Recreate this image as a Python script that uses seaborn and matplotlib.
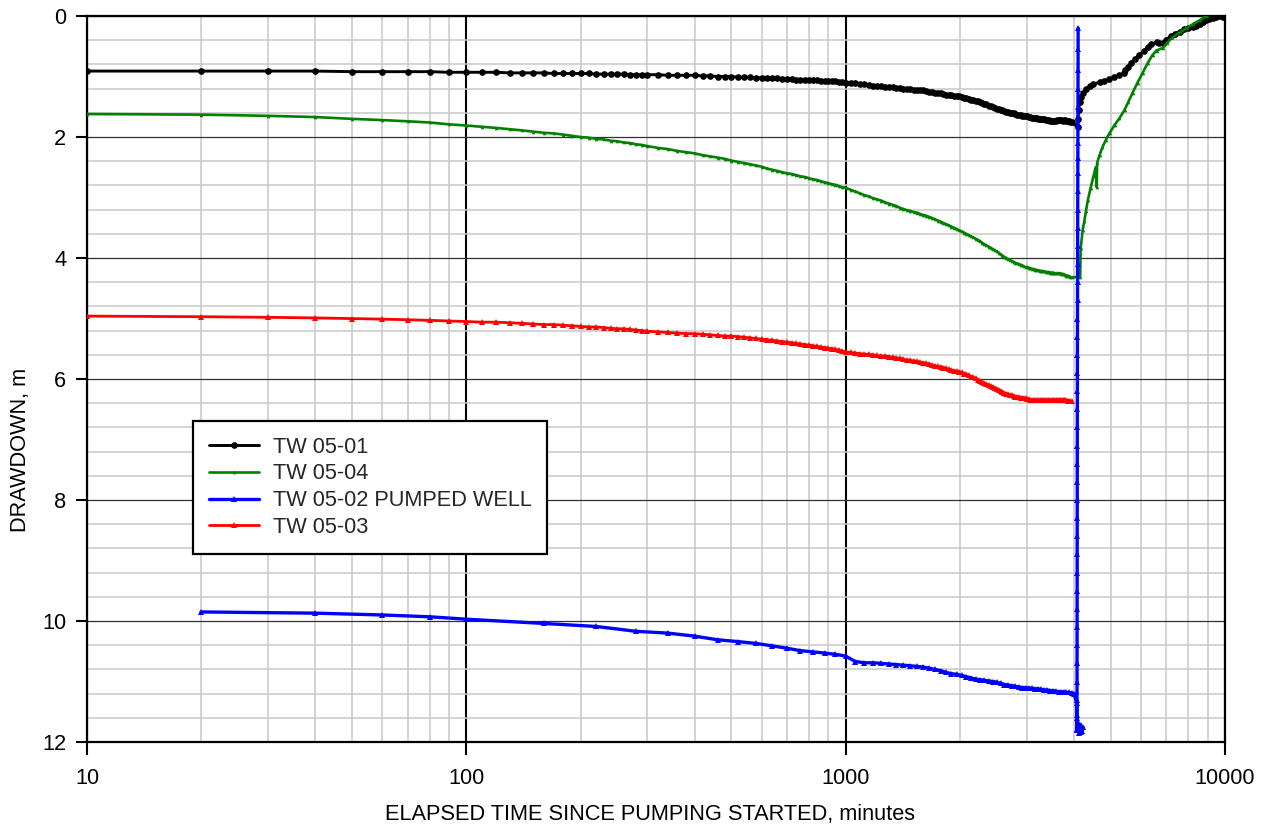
import numpy as np
import matplotlib
matplotlib.use("Agg")
import matplotlib.pyplot as plt
from matplotlib.ticker import LogLocator, MultipleLocator, NullFormatter
import seaborn as sns

# ---------------------------------------------------------------------------
# Pumping-phase logger schedule (minutes since pumping started)
t_early = np.arange(10, 301, 10)      # 30 readings
t_mid = np.arange(320, 1001, 20)      # 35 readings
t_late = np.arange(1030, 3941, 30)    # 98 readings
t_pump = np.concatenate([t_early, t_mid, t_late])

# TW 05-01 drawdown (m) during pumping
tw01_pump = [
    0.91, 0.91, 0.91, 0.91, 0.92, 0.92, 0.92, 0.92, 0.93, 0.93,
    0.93, 0.93, 0.94, 0.94, 0.94, 0.94, 0.95, 0.95, 0.95, 0.95,
    0.95, 0.96, 0.96, 0.96, 0.96, 0.96, 0.97, 0.97, 0.97, 0.97,
    # 320 - 1000
    0.97, 0.98, 0.98, 0.98, 0.98, 0.99, 0.99, 1.00, 1.00, 1.00,
    1.01, 1.01, 1.01, 1.02, 1.02, 1.02, 1.03, 1.03, 1.04, 1.04,
    1.04, 1.05, 1.05, 1.05, 1.06, 1.06, 1.06, 1.07, 1.07, 1.07,
    1.08, 1.08, 1.09, 1.09, 1.10,
    # 1030 - 3940
    1.10, 1.11, 1.12, 1.13, 1.14, 1.15, 1.15, 1.16, 1.17, 1.17,
    1.18, 1.19, 1.19, 1.20, 1.21, 1.21, 1.22, 1.22, 1.23, 1.23,
    1.24, 1.25, 1.26, 1.27, 1.28, 1.28, 1.29, 1.30, 1.31, 1.31,
    1.32, 1.33, 1.33, 1.34, 1.35, 1.36, 1.37, 1.38, 1.39, 1.40,
    1.41, 1.42, 1.43, 1.45, 1.46, 1.48, 1.49, 1.50, 1.52, 1.53,
    1.54, 1.55, 1.56, 1.57, 1.58, 1.59, 1.60, 1.60, 1.61, 1.62,
    1.63, 1.63, 1.64, 1.65, 1.65, 1.66, 1.66, 1.67, 1.67, 1.68,
    1.68, 1.69, 1.69, 1.70, 1.70, 1.71, 1.71, 1.71, 1.72, 1.72,
    1.72, 1.73, 1.73, 1.73, 1.73, 1.73, 1.72, 1.72, 1.72, 1.72,
    1.73, 1.72, 1.72, 1.73, 1.74, 1.74, 1.75, 1.76,
]

# TW 05-04 drawdown (m) during pumping
tw04_pump = [
    1.62, 1.63, 1.65, 1.67, 1.70, 1.72, 1.74, 1.76, 1.79, 1.81,
    1.83, 1.85, 1.87, 1.89, 1.91, 1.93, 1.94, 1.96, 1.98, 2.00,
    2.01, 2.03, 2.04, 2.06, 2.07, 2.09, 2.10, 2.12, 2.13, 2.15,
    # 320 - 1000
    2.18, 2.20, 2.23, 2.25, 2.27, 2.30, 2.32, 2.34, 2.36, 2.39,
    2.41, 2.43, 2.45, 2.47, 2.49, 2.52, 2.54, 2.56, 2.58, 2.60,
    2.61, 2.63, 2.65, 2.66, 2.68, 2.70, 2.71, 2.73, 2.75, 2.76,
    2.78, 2.79, 2.81, 2.83, 2.84,
    # 1030 - 3940
    2.87, 2.90, 2.93, 2.96, 2.98, 3.01, 3.03, 3.05, 3.08, 3.10,
    3.12, 3.14, 3.17, 3.19, 3.21, 3.22, 3.24, 3.25, 3.27, 3.29,
    3.30, 3.32, 3.34, 3.36, 3.38, 3.40, 3.42, 3.44, 3.46, 3.48,
    3.50, 3.52, 3.54, 3.56, 3.58, 3.60, 3.62, 3.64, 3.66, 3.68,
    3.70, 3.72, 3.75, 3.77, 3.79, 3.81, 3.83, 3.85, 3.87, 3.89,
    3.91, 3.94, 3.96, 3.98, 4.00, 4.02, 4.03, 4.05, 4.06, 4.08,
    4.09, 4.10, 4.11, 4.12, 4.14, 4.15, 4.15, 4.16, 4.17, 4.18,
    4.18, 4.19, 4.20, 4.20, 4.21, 4.21, 4.22, 4.22, 4.23, 4.23,
    4.23, 4.24, 4.24, 4.24, 4.25, 4.25, 4.25, 4.25, 4.25, 4.26,
    4.26, 4.27, 4.28, 4.29, 4.29, 4.30, 4.31, 4.32,
]

# TW 05-03 drawdown (m) during pumping
tw03_pump = [
    4.96, 4.97, 4.98, 4.99, 5.00, 5.01, 5.02, 5.03, 5.04, 5.05,
    5.06, 5.06, 5.07, 5.08, 5.09, 5.10, 5.10, 5.11, 5.12, 5.13,
    5.14, 5.14, 5.15, 5.16, 5.17, 5.17, 5.18, 5.19, 5.20, 5.21,
    # 320 - 1000
    5.22, 5.23, 5.24, 5.25, 5.25, 5.26, 5.27, 5.28, 5.29, 5.29,
    5.30, 5.31, 5.32, 5.33, 5.34, 5.35, 5.36, 5.37, 5.38, 5.39,
    5.40, 5.41, 5.42, 5.43, 5.44, 5.45, 5.46, 5.47, 5.48, 5.49,
    5.50, 5.51, 5.52, 5.54, 5.55,
    # 1030 - 3940
    5.56, 5.57, 5.58, 5.59, 5.59, 5.60, 5.61, 5.62, 5.62, 5.63,
    5.64, 5.65, 5.66, 5.67, 5.69, 5.69, 5.70, 5.71, 5.72, 5.73,
    5.74, 5.75, 5.77, 5.78, 5.79, 5.80, 5.81, 5.82, 5.84, 5.85,
    5.86, 5.87, 5.88, 5.89, 5.91, 5.92, 5.94, 5.96, 5.97, 5.99,
    6.01, 6.03, 6.05, 6.07, 6.08, 6.10, 6.12, 6.13, 6.15, 6.17,
    6.18, 6.20, 6.21, 6.23, 6.24, 6.25, 6.26, 6.27, 6.28, 6.29,
    6.30, 6.30, 6.31, 6.31, 6.32, 6.32, 6.33, 6.33, 6.34, 6.34,
    6.34, 6.35, 6.34, 6.35, 6.35, 6.34, 6.35, 6.35, 6.35, 6.35,
    6.34, 6.35, 6.35, 6.34, 6.34, 6.35, 6.35, 6.34, 6.34, 6.35,
    6.34, 6.34, 6.35, 6.35, 6.36, 6.36, 6.37, 6.37,
]

# TW 05-02 (pumped well) schedule and drawdown during pumping
t_pw = np.concatenate([np.arange(20, 101, 20),
                       np.arange(160, 1001, 60),
                       np.arange(1060, 4001, 60)])
tw02_pump = [
    9.85, 9.87, 9.90, 9.93, 9.97,
    10.04, 10.09, 10.17, 10.20, 10.25, 10.31, 10.34, 10.37, 10.41, 10.45,
    10.49, 10.51, 10.53, 10.55, 10.58,
    # 1060 - 4000
    10.67, 10.69, 10.69, 10.70, 10.71, 10.72, 10.73, 10.74, 10.75, 10.76,
    10.78, 10.80, 10.82, 10.85, 10.87, 10.88, 10.90, 10.92, 10.94, 10.96,
    10.97, 10.98, 10.99, 11.00, 11.01, 11.03, 11.05, 11.06, 11.07, 11.08,
    11.09, 11.10, 11.10, 11.11, 11.11, 11.12, 11.12, 11.13, 11.14, 11.14,
    11.15, 11.15, 11.16, 11.17, 11.17, 11.17, 11.18, 11.18, 11.19, 11.20,
]

# Readings after the pump was switched off (time, drawdown)
tw01_rec_t = [4085, 4095, 4110, 4140, 4180, 4230, 4300, 4400, 4500, 4670,
              4800, 4950, 5100, 5270, 5400, 5450, 5550, 5650, 5800, 5950,
              6100, 6250, 6400, 6600, 6700, 6845, 7000, 7200, 7400, 7590,
              7800, 8000, 8210, 8400, 8570, 8750, 8900, 9100, 9270, 9450,
              9675, 9800, 9900]
tw01_rec = [1.83, 1.70, 1.55, 1.42, 1.34, 1.27, 1.21, 1.16, 1.13, 1.09,
            1.07, 1.04, 1.01, 0.98, 0.95, 0.89, 0.84, 0.78, 0.71, 0.64,
            0.58, 0.52, 0.47, 0.43, 0.44, 0.44, 0.39, 0.33, 0.29, 0.26,
            0.22, 0.20, 0.18, 0.16, 0.14, 0.10, 0.07, 0.05, 0.03, 0.02,
            0.00, 0.00, 0.01]

tw04_rec_t = [4150, 4165, 4213, 4260, 4300, 4350, 4420, 4500, 4560, 4590,
              4600, 4670, 4750, 4850, 4966, 5118, 5270, 5437, 5560, 5705,
              5880, 6065, 6250, 6445, 6600, 6845, 7050, 7270, 7600, 7920,
              8250, 8570, 8940]
tw04_rec = [4.31, 3.84, 3.54, 3.38, 3.22, 3.04, 2.85, 2.65, 2.50, 2.83,
            2.43, 2.30, 2.17, 2.05, 1.93, 1.80, 1.69, 1.55, 1.42, 1.27,
            1.10, 0.94, 0.78, 0.64, 0.57, 0.53, 0.44, 0.35, 0.27, 0.20,
            0.13, 0.07, 0.00]

tw02_rec_t = [4060, 4065, 4075, 4100, 4130, 4160, 4200, 4230, 4180, 4120,
              4080, 4072, 4072, 4073, 4073, 4074, 4074, 4075, 4075, 4076,
              4076, 4077, 4077, 4078, 4078, 4079, 4079, 4080, 4080, 4081,
              4081, 4082, 4083, 4084, 4085, 4086, 4087, 4088, 4089, 4090,
              4091, 4092, 4093, 4094, 4095, 4096, 4097, 4098, 4099, 4100]
tw02_rec = [11.35, 11.60, 11.80, 11.75, 11.85, 11.72, 11.82, 11.76, 11.84, 11.70,
            11.78, 11.55, 11.30, 11.00, 10.70, 10.40, 10.10, 9.80, 9.50, 9.20,
            8.90, 8.60, 8.30, 8.00, 7.70, 7.40, 7.10, 6.80, 6.50, 6.20,
            5.90, 5.60, 5.30, 5.00, 4.70, 4.40, 4.10, 3.80, 3.50, 3.20,
            2.90, 2.60, 2.35, 2.10, 1.80, 1.50, 1.20, 0.90, 0.55, 0.20]

well_names = ["TW 05-01", "TW 05-04", "TW 05-02 PUMPED WELL", "TW 05-03"]
well_colors = ["#000000", "#008000", "#0000ff", "#ff0000"]

# ---------------------------------------------------------------------------
sns.set_theme(style="white")
plt.rcParams["font.family"] = ["Liberation Sans", "DejaVu Sans"]
FS = 15.7

fig = plt.figure(figsize=(12.68, 8.30), dpi=100)
ax = fig.add_axes([0.0686, 0.1060, 0.8975, 0.8747])

series = [
    (np.concatenate([t_pump, tw01_rec_t]), tw01_pump + tw01_rec, "o", 4.8, 2.1),
    (np.concatenate([t_pump, tw04_rec_t]), tw04_pump + tw04_rec, "^", 2.6, 1.9),
    (np.concatenate([t_pw, tw02_rec_t]), tw02_pump + tw02_rec, "^", 4.2, 2.4),
    (t_pump, tw03_pump, "^", 4.6, 2.0),
]

for (tx, dd, mk, ms, lw), name, col in zip(series, well_names, well_colors):
    sns.lineplot(x=tx, y=dd, ax=ax, sort=False, estimator=None,
                 color=col, linewidth=lw, marker=mk, markersize=ms,
                 markeredgewidth=0, label=name, zorder=3)

ax.set_xscale("log")
ax.set_xlim(10, 10000)
ax.set_ylim(12, 0)

ax.set_xticks([10, 100, 1000, 10000])
ax.set_xticklabels(["10", "100", "1000", "10000"])
ax.xaxis.set_minor_locator(LogLocator(base=10, subs=np.arange(2, 10)))
ax.xaxis.set_minor_formatter(NullFormatter())
ax.set_yticks([0, 2, 4, 6, 8, 10, 12])
ax.yaxis.set_minor_locator(MultipleLocator(0.4))

ax.set_axisbelow(True)
ax.grid(True, which="minor", color="#c8c8c8", linewidth=1.1)
ax.grid(True, which="major", axis="y", color="#303030", linewidth=0.9)
ax.grid(True, which="major", axis="x", color="#000000", linewidth=1.5)

for sp in ax.spines.values():
    sp.set_visible(True)
    sp.set_color("black")
    sp.set_linewidth(1.6)

ax.tick_params(axis="both", which="minor", length=0)
ax.tick_params(axis="y", which="major", direction="out", length=8, width=1.5,
               pad=7, labelsize=FS, colors="black", left=True)
ax.tick_params(axis="x", which="major", direction="out", length=9, width=1.5,
               pad=10, labelsize=FS, colors="black", bottom=True)

ax.set_xlabel("ELAPSED TIME SINCE PUMPING STARTED, minutes", fontsize=FS,
              color="black")
ax.xaxis.set_label_coords(0.495, -0.0854)
ax.set_ylabel("DRAWDOWN, m", fontsize=FS, color="black")
ax.yaxis.set_label_coords(-0.049, 0.402)

leg = ax.legend(loc="upper left", bbox_to_anchor=(0.093, 0.442),
                borderaxespad=0, fontsize=FS, frameon=True, fancybox=False,
                framealpha=1, edgecolor="black", facecolor="white",
                handlelength=2.3, handletextpad=0.65, labelspacing=0.26,
                borderpad=0.72, numpoints=1)
leg.get_frame().set_linewidth(1.6)

fig.savefig("out.png", dpi=100)
